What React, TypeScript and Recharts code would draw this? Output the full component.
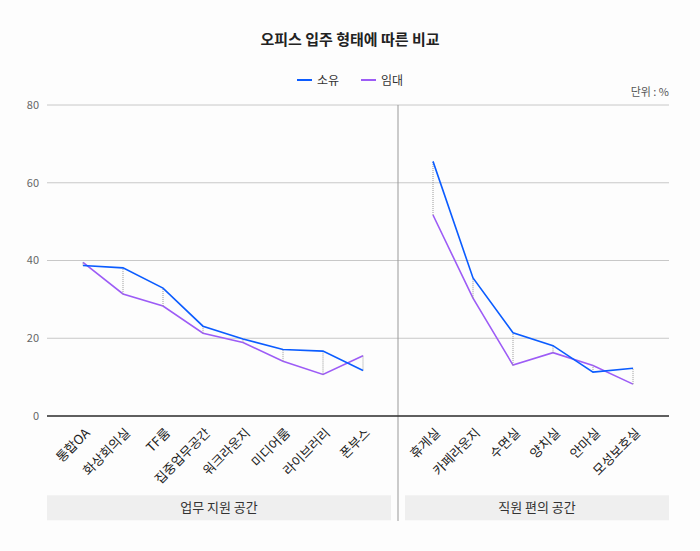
import React from 'react';
import {
  LineChart, Line, XAxis, YAxis, CartesianGrid, ReferenceLine, ReferenceArea, ErrorBar, Label,
} from 'recharts';

// 업무 지원 공간 / 직원 편의 공간 카테고리
const workCategories = ['통합OA', '화상회의실', 'TF룸', '집중업무공간', '워크라운지', '미디어룸', '라이브러리', '폰부스'];
const staffCategories = ['휴게실', '카페라운지', '수면실', '양치실', '안마실', '모성보호실'];

// 소유 (%)
const workOwned = [38.7, 38.1, 32.9, 23.1, 19.8, 17.1, 16.7, 11.7];
const staffOwned = [65.5, 35.5, 21.4, 18.1, 11.3, 12.3];
// 임대 (%)
const workLeased = [39.5, 31.4, 28.3, 21.3, 18.9, 14.1, 10.7, 15.5];
const staffLeased = [51.7, 30.3, 13.1, 16.3, 13.0, 8.2];

const yTicks = [0, 20, 40, 60, 80];

const OWN_COLOR = '#0b5cff';
const LEASE_COLOR = '#9d5cf6';
const FONT = '"Noto Sans CJK KR", "Noto Sans", sans-serif';

// gap (in category steps) between the two groups
const STAFF_START = 8.75;
const DIVIDER = 7.875;

const buildRows = (names: string[], owned: number[], leased: number[], start: number) =>
  names.map((name, i) => ({
    name,
    pos: start + i,
    own: owned[i],
    lease: leased[i],
    gap: [Math.max(0, owned[i] - leased[i]), Math.max(0, leased[i] - owned[i])],
  }));

const workRows = buildRows(workCategories, workOwned, workLeased, 0);
const staffRows = buildRows(staffCategories, staffOwned, staffLeased, STAFF_START);
const allRows = [...workRows, ...staffRows];

const tickPositions = allRows.map(r => r.pos);
const labelAt = (v: number) => allRows.find(r => r.pos === v)?.name ?? '';

const RotatedTick = (props: any) => {
  const { x, y, payload } = props;
  return (
    <g transform={`translate(${x + 4},${y + 6})`}>
      <text
        transform="rotate(-45)"
        textAnchor="end"
        dominantBaseline="central"
        fontSize={13}
        fill="#222"
        fontFamily={FONT}
      >
        {labelAt(payload.value)}
      </text>
    </g>
  );
};

export default function App() {
  return (
    <div style={{ position: 'absolute', left: 0, top: 0, width: 700, height: 551, background: '#fdfdfd', fontFamily: FONT }}>
      <div style={{ position: 'absolute', top: 28, width: 700, textAlign: 'center', fontSize: 15, fontWeight: 700, color: '#222' }}>
        오피스 입주 형태에 따른 비교
      </div>
      <div style={{ position: 'absolute', top: 71, width: 700, display: 'flex', justifyContent: 'center', gap: 22, fontSize: 12, color: '#333' }}>
        {[['소유', OWN_COLOR], ['임대', LEASE_COLOR]].map(([label, color]) => (
          <div key={label} style={{ display: 'flex', alignItems: 'center', gap: 5 }}>
            <span style={{ display: 'inline-block', width: 15, height: 2, background: color }} />
            <span>{label}</span>
          </div>
        ))}
      </div>
      <div style={{ position: 'absolute', top: 83, right: 31, fontSize: 11, color: '#555' }}>단위 : %</div>
      <LineChart
        width={700}
        height={551}
        margin={{ top: 105, right: 31, bottom: 105, left: 0 }}
        style={{ position: 'absolute', left: 0, top: 0 }}
      >
        <CartesianGrid vertical={false} stroke="#c8c8c8" />
        <XAxis
          dataKey="pos"
          type="number"
          domain={[-0.9, 14.65]}
          ticks={tickPositions}
          interval={0}
          tick={<RotatedTick />}
          tickLine={false}
          axisLine={{ stroke: '#333', strokeWidth: 1.5 }}
          height={30}
          allowDuplicatedCategory={false}
        />
        <YAxis
          domain={[0, 80]}
          ticks={yTicks}
          width={47}
          axisLine={false}
          tickLine={false}
          tick={{ fontSize: 11, fill: '#666', fontFamily: FONT }}
        />
        <ReferenceLine
          segment={[{ x: DIVIDER, y: 80 }, { x: DIVIDER, y: -27 }]}
          ifOverflow="visible"
          stroke="#999"
        />
        <ReferenceArea x1={-0.9} x2={7.7} y1={-20.4} y2={-26.8} ifOverflow="visible" fill="#efefef" fillOpacity={1} stroke="none">
          <Label value="업무 지원 공간" position="center" fontSize={13} fill="#333" fontFamily={FONT} />
        </ReferenceArea>
        <ReferenceArea x1={8.05} x2={14.65} y1={-20.4} y2={-26.8} ifOverflow="visible" fill="#efefef" fillOpacity={1} stroke="none">
          <Label value="직원 편의 공간" position="center" fontSize={13} fill="#333" fontFamily={FONT} />
        </ReferenceArea>
        {[workRows, staffRows].map((rows, g) => (
          <Line key={`lease-${g}`} data={rows} dataKey="lease" name="임대" stroke={LEASE_COLOR} strokeWidth={1.6} dot={false} isAnimationActive={false} />
        ))}
        {[workRows, staffRows].map((rows, g) => (
          <Line key={`own-${g}`} data={rows} dataKey="own" name="소유" stroke={OWN_COLOR} strokeWidth={1.6} dot={false} isAnimationActive={false}>
            <ErrorBar dataKey="gap" direction="y" width={0} stroke="#999" strokeWidth={1} strokeDasharray="1 1" />
          </Line>
        ))}
      </LineChart>
    </div>
  );
}
